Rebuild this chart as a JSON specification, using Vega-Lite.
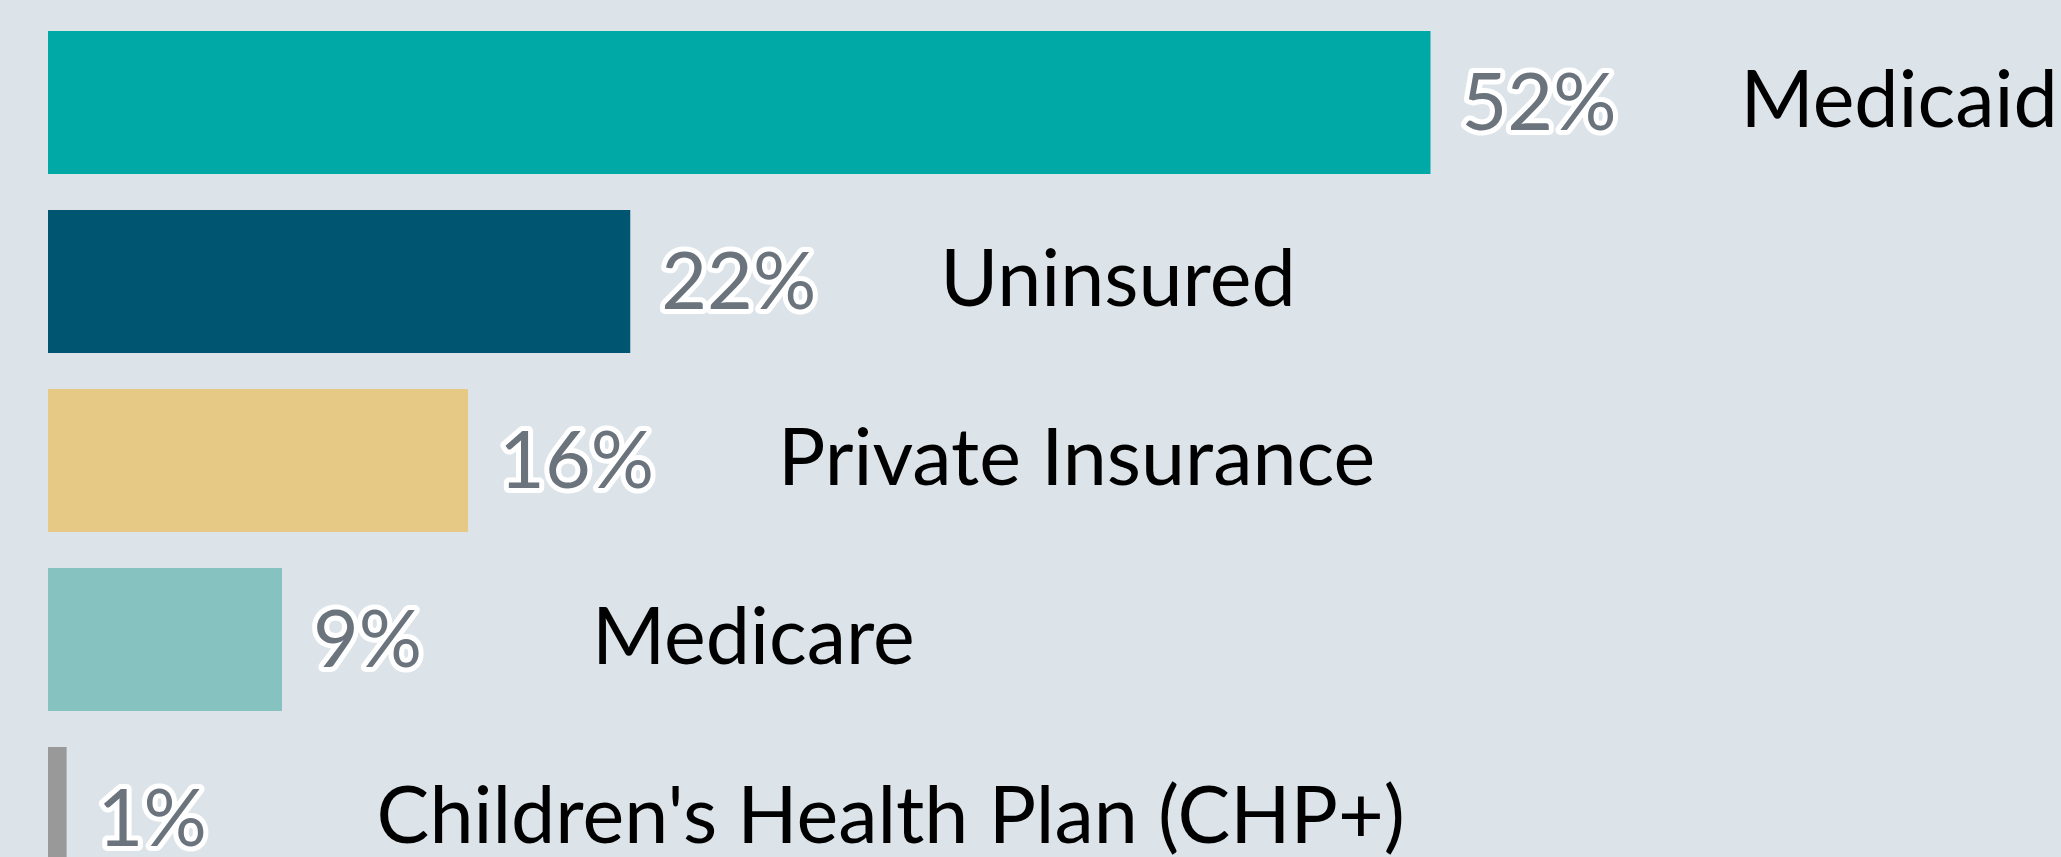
{
  "$schema": "https://vega.github.io/schema/vega-lite/v6.json",
  "width": 1994,
  "height": 844,
  "autosize": {"type": "none"},
  "padding": {"left": 48, "top": 13, "right": 19, "bottom": 0},
  "background": "#dce4e9",
  "config": {"view": {"stroke": null}, "font": "Lato"},
  "data": {
    "values": [
      {"category": "Medicaid", "value": 52, "label": "52%", "color": "#00a8a6"},
      {"category": "Uninsured", "value": 21.9, "label": "22%", "color": "#005571"},
      {"category": "Private Insurance", "value": 15.8, "label": "16%", "color": "#e6c985"},
      {"category": "Medicare", "value": 8.8, "label": "9%", "color": "#85c2c0"},
      {"category": "Children's Health Plan (CHP+)", "value": 0.7, "label": "1%", "color": "#999999"}
    ]
  },
  "encoding": {
    "y": {
      "field": "category",
      "type": "nominal",
      "sort": null,
      "axis": null,
      "scale": {"range": [0, 895], "paddingInner": 0.2, "paddingOuter": 0.1}
    }
  },
  "layer": [
    {
      "mark": {"type": "bar"},
      "encoding": {
        "x": {"field": "value", "type": "quantitative", "axis": null, "scale": {"domain": [0, 75], "nice": false}},
        "color": {"field": "color", "type": "nominal", "scale": null, "legend": null}
      }
    },
    {
      "mark": {"type": "text", "align": "left", "baseline": "middle", "dx": 31, "dy": 3, "fontSize": 79, "fill": "#ffffff", "stroke": "#ffffff", "strokeWidth": 10, "strokeJoin": "round"},
      "encoding": {
        "x": {"field": "value", "type": "quantitative"},
        "text": {"field": "label", "type": "nominal"}
      }
    },
    {
      "mark": {"type": "text", "align": "left", "baseline": "middle", "dx": 31, "dy": 3, "fontSize": 79, "fill": "#6b737d"},
      "encoding": {
        "x": {"field": "value", "type": "quantitative"},
        "text": {"field": "label", "type": "nominal"}
      }
    },
    {
      "mark": {"type": "text", "align": "left", "baseline": "middle", "dx": 310, "fontSize": 79, "fill": "#000000"},
      "encoding": {
        "x": {"field": "value", "type": "quantitative"},
        "text": {"field": "category", "type": "nominal"}
      }
    }
  ]
}
